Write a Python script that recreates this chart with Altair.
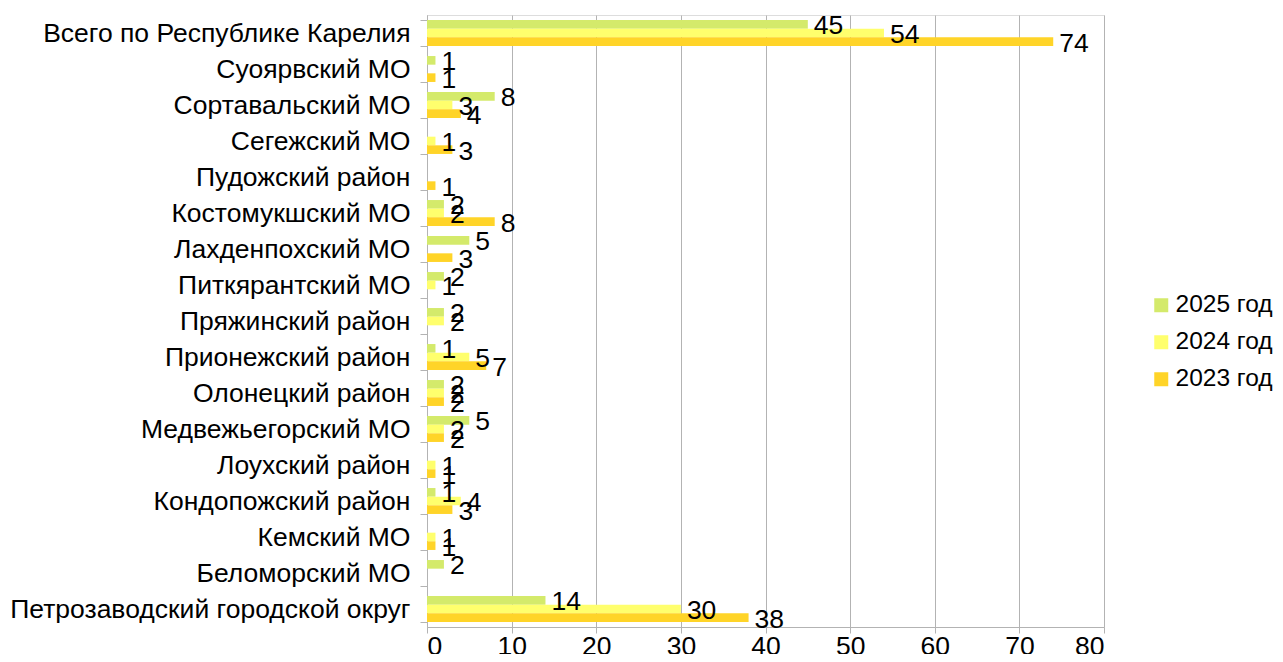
import altair as alt
import pandas as pd

categories = [
    "Всего по Республике Карелия",
    "Суоярвский МО",
    "Сортавальский МО",
    "Сегежский МО",
    "Пудожский район",
    "Костомукшский МО ",
    "Лахденпохский МО",
    "Питкярантский МО",
    "Пряжинский район",
    "Прионежский район ",
    "Олонецкий район",
    "Медвежьегорский МО",
    "Лоухский район",
    "Кондопожский район",
    "Кемский МО",
    "Беломорский МО",
    "Петрозаводский городской округ",
]
series = ["2025 год", "2024 год", "2023 год"]
v2025 = [45, 1, 8, None, None, 2, 5, 2, 2, 1, 2, 5, None, 1, None, 2, 14]
v2024 = [54, None, 3, 1, None, 2, None, 1, 2, 5, 2, 2, 1, 4, 1, None, 30]
v2023 = [74, 1, 4, 3, 1, 8, 3, None, None, 7, 2, 2, 1, 3, 1, None, 38]
colors = ["#d4ea6b", "#ffff6d", "#ffd428"]
x_ticks = [0, 10, 20, 30, 40, 50, 60, 70, 80]

rows = []
for s, vals in zip(series, [v2025, v2024, v2023]):
    for c, v in zip(categories, vals):
        if v is not None:
            rows.append({"cat": c, "series": s, "value": v})
df = pd.DataFrame(rows)

font = "Liberation Sans"
fs = 26.5

y_enc = alt.Y("cat:N", sort=categories, title=None,
              scale=alt.Scale(paddingInner=0.28, paddingOuter=0.14),
              axis=alt.Axis(labelFontSize=fs, labelFont=font, labelColor="#000",
                            tickBand="extent", tickColor="#b3b3b3", tickSize=7,
                            domainColor="#b3b3b3", labelPadding=10, labelLimit=600))
yoff = alt.YOffset("series:N", sort=series)

base = alt.Chart(df).encode(y=y_enc, yOffset=yoff)

bars = base.mark_bar().encode(
    x=alt.X("value:Q", title=None,
            scale=alt.Scale(domain=[0, 80], nice=False),
            axis=alt.Axis(values=x_ticks, labelFontSize=fs, labelFont=font,
                          labelColor="#000", gridColor="#b3b3b3",
                          tickColor="#b3b3b3", tickSize=6, domainColor="#b3b3b3",
                          labelPadding=0)),
    color=alt.Color("series:N", sort=series,
                    scale=alt.Scale(domain=series, range=colors),
                    legend=alt.Legend(title=None, orient="none", legendX=722, legendY=278,
                                      symbolType="square",
                                      symbolSize=196, symbolStrokeWidth=0,
                                      labelFontSize=24.5, labelFont=font,
                                      labelColor="#000", rowPadding=12, labelOffset=2)),
)

labels = base.mark_text(align="left", baseline="middle", dx=6, dy=2,
                        fontSize=fs, font=font, color="#000").encode(
    x="value:Q", text="value:Q")

chart = (bars + labels).properties(
    width=677, height=612,
    autosize=alt.AutoSizeParams(type="none"),
    padding={"left": 419, "top": 7, "right": 171, "bottom": 27},
).configure_view(stroke="#b3b3b3").configure(background="white")

chart.save("out.html", embed_options={"renderer": "svg", "actions": False})
